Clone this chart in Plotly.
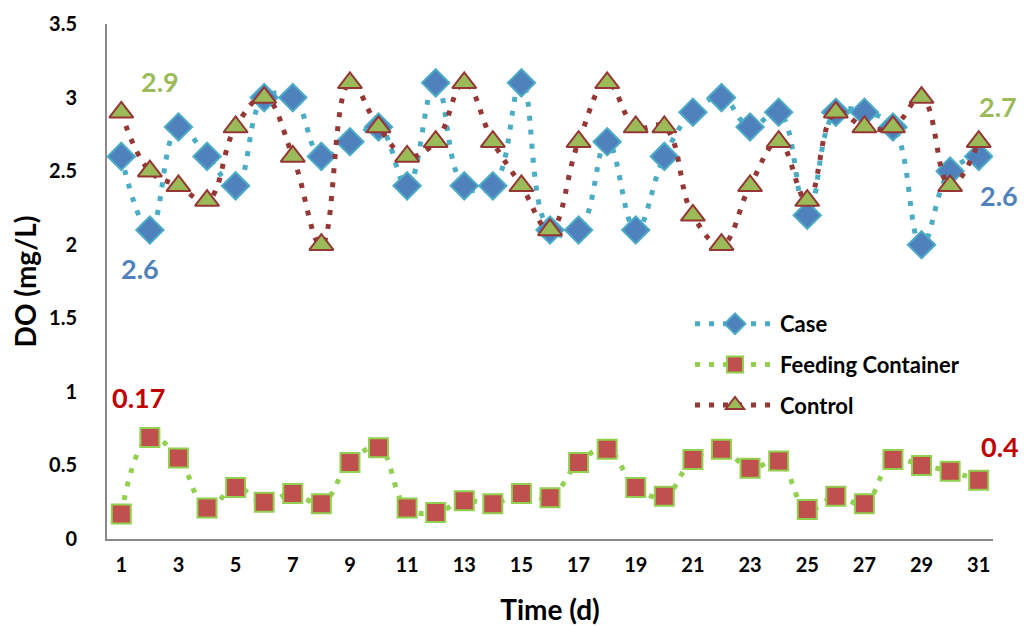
import plotly.graph_objects as go

days = list(range(1, 32))
case = [2.6, 2.1, 2.8, 2.6, 2.4, 3.0, 3.0, 2.6, 2.7, 2.8,
        2.4, 3.1, 2.4, 2.4, 3.1, 2.1, 2.1, 2.7, 2.1, 2.6,
        2.9, 3.0, 2.8, 2.9, 2.2, 2.9, 2.9, 2.8, 2.0, 2.5, 2.6]
feeding = [0.17, 0.69, 0.55, 0.21, 0.35, 0.25, 0.31, 0.24, 0.52, 0.62,
           0.21, 0.18, 0.26, 0.24, 0.31, 0.28, 0.52, 0.61, 0.35, 0.29,
           0.54, 0.61, 0.48, 0.53, 0.20, 0.29, 0.24, 0.54, 0.50, 0.46, 0.40]
control = [2.9, 2.5, 2.4, 2.3, 2.8, 3.0, 2.6, 2.0, 3.1, 2.8,
           2.6, 2.7, 3.1, 2.7, 2.4, 2.1, 2.7, 3.1, 2.8, 2.8,
           2.2, 2.0, 2.4, 2.7, 2.3, 2.9, 2.8, 2.8, 3.0, 2.4, 2.7]
x_ticks = list(range(1, 32, 2))
y_ticks = [0, 0.5, 1, 1.5, 2, 2.5, 3, 3.5]

FONT = "Lato"
DASH = "5px,9px"
fig = go.Figure()
fig.add_trace(go.Scatter(
    x=days, y=case, name="<b>Case</b>", mode="lines+markers", legendgroup="a",
    line=dict(color="#4BACC6", width=5, dash=DASH, shape="spline", smoothing=1.2),
    marker=dict(symbol="diamond", size=21, color="#4F81BD",
                line=dict(color="#4BACC6", width=2))))
fig.add_trace(go.Scatter(
    x=days, y=feeding, name="<b>Feeding Container</b>", mode="lines+markers", legendgroup="b",
    line=dict(color="#92D050", width=5, dash=DASH, shape="spline", smoothing=1.2),
    marker=dict(symbol="square", size=19, color="#C0504D",
                line=dict(color="#92D050", width=2))))
fig.add_trace(go.Scatter(
    x=days, y=control, name="<b>Control</b>", mode="lines+markers", legendgroup="c",
    line=dict(color="#953735", width=5, dash=DASH, shape="spline", smoothing=1.2),
    marker=dict(symbol="triangle-up", size=21, color="#9BBB59",
                line=dict(color="#953735", width=2))))

# page-pixel positions converted to paper coordinates (plot area 107..993 x 24..539 on page)
def px(x):
    return (x - 107) / 886.0

def py(y):
    return (539 - y) / 515.0

annots = [
    (160, 81, "2.9", "#9BBB59"),
    (140, 268, "2.6", "#4F81BD"),
    (138, 397, "0.17", "#C00000"),
    (998, 107, "2.7", "#9BBB59"),
    (999, 195, "2.6", "#4F81BD"),
    (1000, 446, "0.4", "#C00000"),
]
for x, y, t, c in annots:
    fig.add_annotation(x=px(x), y=py(y), text="<b>%s</b>" % t, showarrow=False,
                       xanchor="center", yanchor="middle",
                       font=dict(family=FONT, size=27, color=c),
                       xref="paper", yref="paper")

# the page body adds an 8px offset, so the figure is 8px smaller and margins shifted
fig.update_layout(
    width=1019, height=618,
    margin=dict(l=99, r=34, t=16, b=87),
    plot_bgcolor="white", paper_bgcolor="white",
    font=dict(family=FONT, color="black"),
    showlegend=True,
    legend=dict(x=px(690), y=py(303), xanchor="left", yanchor="top",
                font=dict(family=FONT, size=22, color="black"),
                bgcolor="rgba(0,0,0,0)", itemwidth=80, tracegroupgap=9),
    xaxis=dict(range=[0.5, 31.5], tickvals=x_ticks,
               ticktext=["<b>%d</b>" % v for v in x_ticks],
               showgrid=False, zeroline=False, automargin=False,
               showline=True, linecolor="#898989", linewidth=2, ticks="",
               ticklabelstandoff=7,
               tickfont=dict(family=FONT, size=20, color="black"),
               title=dict(text="<b>Time (d)</b>", font=dict(family=FONT, size=28), standoff=29)),
    yaxis=dict(range=[0, 3.5], tickvals=y_ticks, ticktext=["<b>%g</b>" % v for v in y_ticks],
               showgrid=False, zeroline=False, automargin=False,
               showline=True, linecolor="#898989", linewidth=2, ticks="",
               ticklabelstandoff=24,
               tickfont=dict(family=FONT, size=20, color="black"),
               title=dict(text="<b>DO (mg/L)</b>", font=dict(family=FONT, size=28), standoff=17)),
)
fig.write_html("out.html")
